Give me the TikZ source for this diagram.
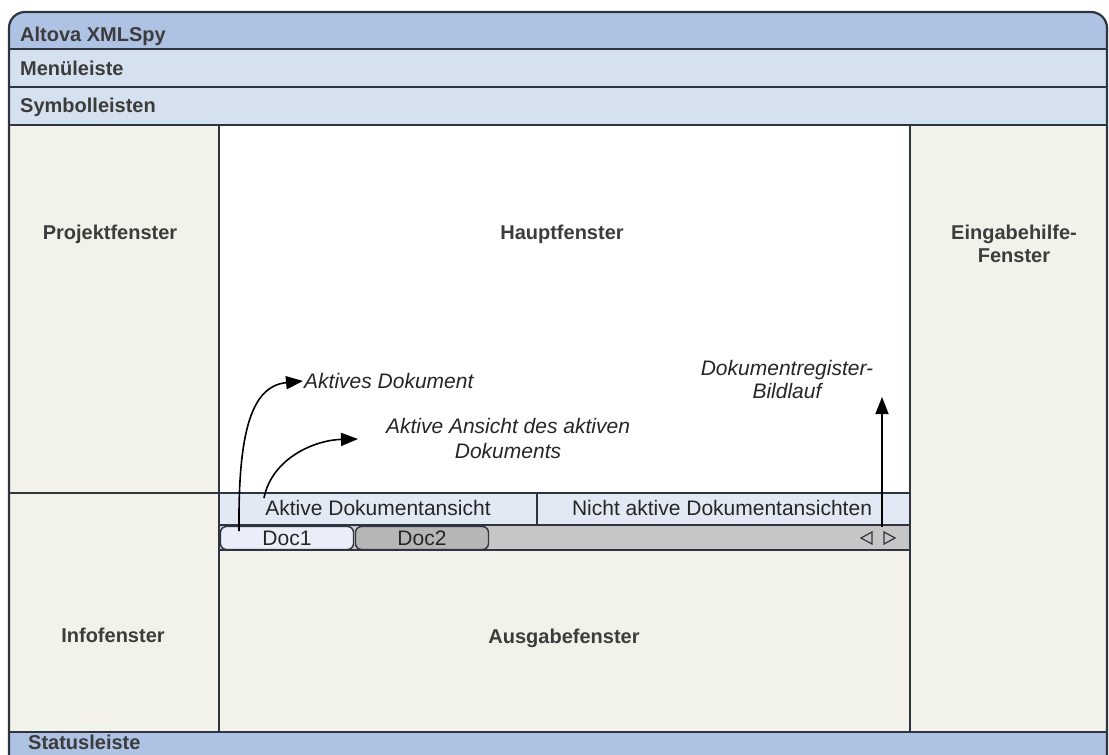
\documentclass[tikz,border=0pt]{standalone}
\usepackage{fontspec}
\setmainfont{Liberation Sans}
\usetikzlibrary{arrows.meta}
\definecolor{titelblau}{HTML}{AEC2E4}
\definecolor{leistenblau}{HTML}{D5E1EF}
\definecolor{fensterbeige}{HTML}{F2F2EA}
\definecolor{ansichtblau}{HTML}{E2E9F4}
\definecolor{reiterblau}{HTML}{E9EEF8}
\definecolor{registergrau}{HTML}{C6C6C6}
\definecolor{rahmen}{HTML}{2E3540}
\definecolor{schrift}{HTML}{3C3C3C}

\begin{document}
\begin{tikzpicture}[x=1pt, y=-1pt,
    rahmenlinie/.style={rahmen, line width=2.2pt},
    duennlinie/.style={rahmen, line width=1.4pt},
    fenstername/.style={font=\fontsize{20}{23}\selectfont\bfseries, text=schrift, align=center, anchor=base},
    leistenname/.style={fenstername, anchor=base west, inner sep=0pt},
    ansichtname/.style={font=\fontsize{21}{25}\selectfont, text=black!85, anchor=base},
    hinweis/.style={font=\fontsize{21}{25}\selectfont\itshape, text=black!85, align=center},
    reiter/.style={draw=rahmen, line width=1.4pt, rounded corners=6pt, minimum width=133pt, minimum height=23pt, inner sep=0pt, font=\fontsize{21}{25}\selectfont, text=black!85},
    zeiger/.style={-{Triangle[length=17pt, width=13pt]}, line width=1.6pt}]
    \useasboundingbox (0,0) rectangle (1109,755);
    \clip (0,0) rectangle (1109,755);

    % Flaechen
    \fill[titelblau, rounded corners=16pt] (9,12) rectangle (1107,775);
    \fill[leistenblau] (9,49) rectangle (1107,125);
    \fill[fensterbeige] (9,125) rectangle (1107,732);
    \fill[white] (219,125) rectangle (910,493);
    \fill[ansichtblau] (219,493) rectangle (910,525);
    \fill[registergrau] (219,525) rectangle (910,550);

    % Trennlinien
    \draw[rahmenlinie] (9,49) -- (1107,49) (9,87) -- (1107,87) (9,125) -- (1107,125) (9,732) -- (1107,732);
    \draw[rahmenlinie] (219,125) -- (219,732) (910,125) -- (910,732);
    \draw[rahmenlinie] (9,493) -- (910,493);
    \draw[duennlinie] (219,525) -- (910,525) (537,493) -- (537,525) (219,550) -- (910,550);
    \draw[rahmenlinie, rounded corners=16pt] (9,12) rectangle (1107,775);

    % Dokumentregister
    \node[reiter, fill=reiterblau] (doc1) at (287,538) {Doc1};
    \node[reiter, fill=registergrau!92!black] (doc2) at (422,538) {Doc2};
    \draw[duennlinie, line width=1.2pt] (861,538) -- (872,532) -- (872,544) -- cycle;
    \draw[duennlinie, line width=1.2pt] (895,538) -- (884,532) -- (884,544) -- cycle;

    % Leisten
    \node[leistenname] (titel) at (20,41) {Altova XMLSpy};
    \node[leistenname] (menue) at (20,75) {Menüleiste};
    \node[leistenname] (symbole) at (20,112) {Symbolleisten};
    \node[leistenname] (status) at (28,749) {Statusleiste};

    % Fenster
    \node[fenstername] (projekt) at (110,239) {Projektfenster};
    \node[fenstername] (haupt) at (562,239) {Hauptfenster};
    \node[fenstername, anchor=center] (eingabe) at (1014,244) {Eingabehilfe-\\Fenster};
    \node[fenstername] (info) at (113,642) {Infofenster};
    \node[fenstername] (ausgabe) at (564,643) {Ausgabefenster};
    \node[ansichtname] (aktansicht) at (378,515) {Aktive Dokumentansicht};
    \node[ansichtname] (nichtaktiv) at (722,515) {Nicht aktive Dokumentansichten};

    % Hinweise mit Pfeilen
    \node[hinweis, anchor=west, inner sep=1pt] (aktdok) at (303,381) {Aktives Dokument};
    \node[hinweis] (aktview) at (508,438) {Aktive Ansicht des aktiven\\Dokuments};
    \node[hinweis, font=\fontsize{21}{23}\selectfont\itshape] (bildlauf) at (787,379) {Dokumentregister-\\Bildlauf};
    \coordinate (start1) at (239,531);
    \coordinate (start2) at (264,498);
    \coordinate (ziel2) at (358,439);
    \coordinate (start3) at (882,527);
    \coordinate (ziel3) at (882,397);
    \draw[zeiger] (start1) .. controls (238,430) and (252,386) .. (aktdok.west);
    \draw[zeiger] (start2) .. controls (272,458) and (315,440) .. (ziel2);
    \draw[zeiger] (start3) -- (ziel3);
\end{tikzpicture}
\end{document}
